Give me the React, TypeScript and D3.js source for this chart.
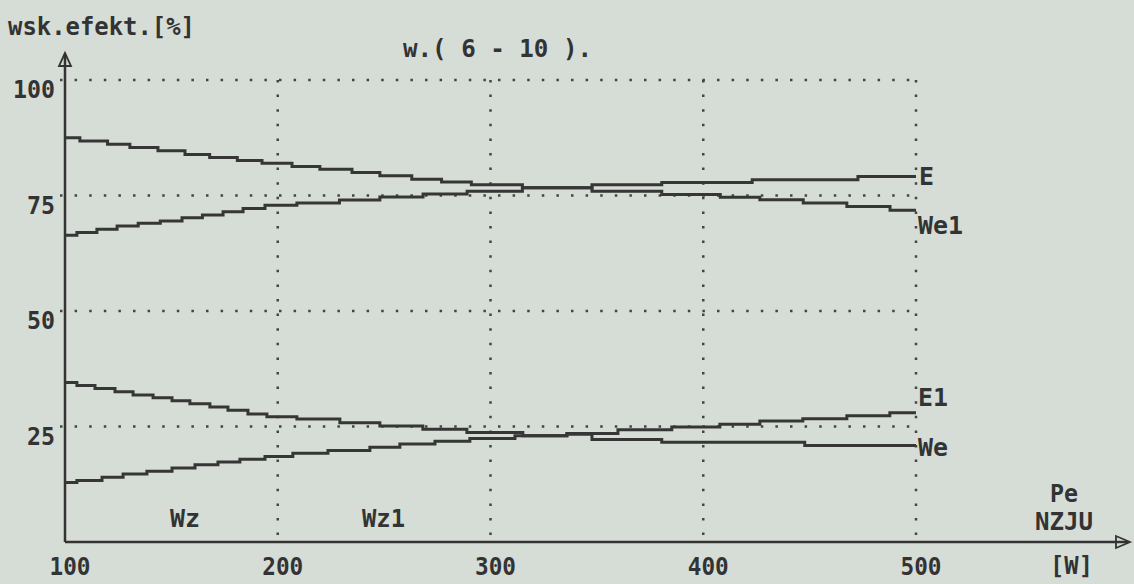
import * as d3 from 'd3';

// step start positions (Pe, W) and efficiency values (%)
const eX = [100, 107, 120, 130.5, 143.7, 156.4, 168, 181, 192.6, 206.7, 219.8, 234.9, 248, 263, 277, 291, 315, 347.7, 380.5, 423, 472.7];
const eY = [87.5, 86.8, 86.1, 85.4, 84.7, 83.9, 83.2, 82.6, 82.0, 81.3, 80.7, 80.0, 79.3, 78.5, 77.9, 77.3, 76.7, 77.3, 77.8, 78.4, 79.1];

const we1X = [100, 105.6, 115, 124.5, 134.4, 144.8, 155, 164.6, 174.3, 183.7, 194, 209, 229, 248, 268.3, 289, 315, 347.7, 380.5, 408, 426.6, 447, 467.5, 487.8];
const we1Y = [66.4, 67.0, 67.7, 68.4, 69.0, 69.5, 70.2, 70.8, 71.5, 72.2, 72.9, 73.4, 74.0, 74.7, 75.3, 75.9, 76.7, 75.9, 75.2, 74.6, 74.1, 73.4, 72.6, 71.8];

const e1X = [100, 105.6, 114.1, 123.5, 132, 141.4, 150.3, 158.7, 168.1, 176.6, 186, 194.9, 209, 229.2, 248, 268.2, 288.9, 315.2, 335.9, 359.9, 385.2, 407.8, 426.6, 446.8, 467.5, 487.7];
const e1Y = [34.5, 33.9, 33.2, 32.5, 31.8, 31.2, 30.6, 29.9, 29.2, 28.5, 27.7, 27.1, 26.6, 25.8, 25.1, 24.4, 23.7, 23.0, 23.5, 24.3, 24.9, 25.5, 26.2, 26.7, 27.3, 28.0];

const weX = [100, 105.6, 117.4, 127.3, 138.5, 150.3, 161.1, 171.9, 182.2, 194, 207.1, 223.6, 243.3, 257.4, 273.9, 290.3, 311.5, 335.9, 347.7, 380.5, 447.7];
const weY = [12.9, 13.3, 14.0, 14.7, 15.3, 16.0, 16.7, 17.3, 17.9, 18.5, 19.2, 19.8, 20.5, 21.2, 21.8, 22.4, 23.0, 23.3, 22.2, 21.6, 20.9];

const xTicks = [100, 200, 300, 400, 500];
const yTicks = [100, 75, 50, 25];
const vGrid = [200, 300, 400, 500];

const series = [
  { name: 'E', xs: eX, ys: eY, lx: 919, ly: 185 },
  { name: 'We1', xs: we1X, ys: we1Y, lx: 918, ly: 234 },
  { name: 'E1', xs: e1X, ys: e1Y, lx: 918, ly: 406 },
  { name: 'We', xs: weX, ys: weY, lx: 918, ly: 456 },
];

const W = 1134;
const H = 584;
const ink = '#333';
const font = '"DejaVu Sans Mono", monospace';

export default function App() {
  const x = d3.scaleLinear().domain([100, 500]).range([65, 916]);
  const y = d3.scaleLinear().domain([0, 100]).range([542, 80]);

  const line = d3
    .line<[number, number]>()
    .x((d) => x(d[0]))
    .y((d) => y(d[1]))
    .curve(d3.curveStepAfter);

  const txt = (s: string, tx: number, ty: number, len?: number, anchor = 'start') => (
    <text
      key={s + tx + ty}
      x={tx}
      y={ty}
      textAnchor={anchor}
      fontFamily={font}
      fontWeight="bold"
      fontSize={24}
      fill={ink}
      textLength={len}
      lengthAdjust={len ? 'spacingAndGlyphs' : undefined}
    >
      {s}
    </text>
  );

  const dots = { stroke: '#444', strokeWidth: 2.5, strokeDasharray: '2.5 12.1', fill: 'none' };

  return (
    <svg width={W} height={H} style={{ position: 'absolute', left: 0, top: 0 }}>
      <rect width={W} height={H} fill="#d6ddd7" />

      {/* dotted grid */}
      {yTicks.map((t) => (
        <line key={'h' + t} x1={60} x2={x(500)} y1={y(t)} y2={y(t)} {...dots} />
      ))}
      {vGrid.map((t) => (
        <line key={'v' + t} x1={x(t)} x2={x(t)} y1={y(100)} y2={y(0)} {...dots} />
      ))}

      {/* axes */}
      <line x1={x(100)} x2={x(100)} y1={54} y2={y(0)} stroke={ink} strokeWidth={2.5} />
      <line x1={x(100)} x2={1128} y1={y(0)} y2={y(0)} stroke={ink} strokeWidth={2.5} />
      <path d={`M${x(100)},53 L${x(100) - 6},66 L${x(100) + 6},66 Z M${x(100) - 6},66 L${x(100) + 6},66`} fill="none" stroke={ink} strokeWidth={1.8} />
      <path d={`M1130,${y(0)} L1116,${y(0) - 6} L1116,${y(0) + 6} Z`} fill="none" stroke={ink} strokeWidth={1.8} />

      {/* curves */}
      {series.map((s) => {
        const pts: [number, number][] = s.xs.map((v, i) => [v, s.ys[i]]);
        pts.push([500, s.ys[s.ys.length - 1]]);
        return <path key={s.name} d={line(pts) || ''} fill="none" stroke="#363636" strokeWidth={3} />;
      })}

      {/* labels */}
      {txt('wsk.efekt.[%]', 8, 35, 187)}
      {txt('w.( 6 - 10 ).', 403, 57, 189)}
      {yTicks.map((t) => txt(String(t), 55, y(t) + 18, String(t).length * 14, 'end'))}
      {xTicks.map((t) => txt(String(t), x(t) + 5, 575, 41, 'middle'))}
      {series.map((s) => txt(s.name, s.lx, s.ly, s.name.length * 15))}
      {txt('Wz', 170, 527, 30)}
      {txt('Wz1', 362, 527, 43)}
      {txt('Pe', 1050, 502, 28)}
      {txt('NZJU', 1035, 530, 58)}
      {txt('[W]', 1050, 574, 43)}
    </svg>
  );
}
